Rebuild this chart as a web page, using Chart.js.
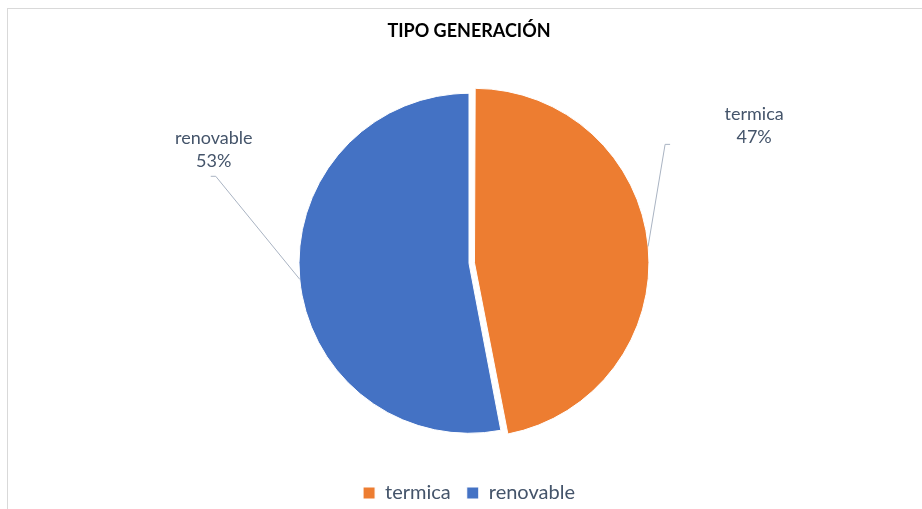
<!DOCTYPE html>
<html>
<head>
<meta charset="utf-8">
<script src="https://cdn.jsdelivr.net/npm/chart.js@4/dist/chart.umd.min.js"></script>
<style>
  html, body { margin: 0; padding: 0; background: #fff; overflow: hidden; }
  #frame { position: absolute; left: 7px; top: 8px; width: 1000px; height: 600px;
           border-left: 1px solid #d9d9d9; border-top: 1px solid #d9d9d9; }
  #wrap { position: absolute; left: 0; top: 0; width: 922px; height: 509px; }
</style>
</head>
<body>
<div id="frame"></div>
<div id="wrap"><canvas id="chart"></canvas></div>
<script>
// data
const categories = ['termica', 'renovable'];
const values = [47, 53];
const colors = ['#ED7D31', '#4472C4'];

const textColor = '#44546A';

// outside labels with leader lines, anchored on each slice edge at its mid angle
const outLabels = {
  id: 'outLabels',
  afterDatasetsDraw(chart, args, opts) {
    const meta = chart.getDatasetMeta(0);
    const ctx = chart.ctx;
    const total = values.reduce((a, b) => a + b, 0);
    meta.data.forEach((arc, i) => {
      const p = arc.getProps(['x', 'y', 'startAngle', 'endAngle', 'outerRadius'], true);
      const mid = (p.startAngle + p.endAngle) / 2;
      const shift = (arc.options.offset || 0) / 4;
      const ex = p.x + Math.cos(mid) * (p.outerRadius + shift * 1.8);
      const ey = p.y + Math.sin(mid) * (p.outerRadius + shift * 1.8);
      const pl = opts.place[i];
      const lx = ex + pl.dx, ly = ey + pl.dy;
      ctx.save();
      ctx.strokeStyle = '#A9B3C2';
      ctx.lineWidth = 1;
      ctx.beginPath();
      ctx.moveTo(ex, ey);
      ctx.lineTo(lx, ly);
      ctx.lineTo(lx + pl.tick, ly);
      ctx.stroke();
      ctx.fillStyle = textColor;
      ctx.font = '18px Lato';
      ctx.textAlign = 'center';
      ctx.textBaseline = 'middle';
      ctx.fillText(categories[i], lx + pl.tx, ly + pl.ty);
      ctx.fillText(Math.round(values[i] / total * 100) + '%', lx + pl.tx, ly + pl.ty + 23);
      ctx.restore();
    });
  }
};

new Chart(document.getElementById('chart'), {
  type: 'pie',
  data: {
    labels: categories,
    datasets: [{
      data: values,
      backgroundColor: colors,
      borderColor: '#ffffff',
      borderWidth: 1,
      offset: [22, 0]
    }]
  },
  options: {
    responsive: true,
    maintainAspectRatio: false,
    animation: false,
    radius: 170,
    layout: { padding: { left: 16, right: 0, top: 0, bottom: -4 } },
    plugins: {
      tooltip: { enabled: false },
      title: {
        display: true,
        text: 'TIPO GENERACIÓN',
        color: '#000000',
        font: { family: 'Lato', size: 18, weight: 'bold' },
        padding: { top: 20, bottom: 18 }
      },
      legend: {
        position: 'bottom',
        labels: {
          color: textColor,
          font: { family: 'Lato', size: 20 },
          boxWidth: 12,
          boxHeight: 12,
          padding: 16
        }
      },
      outLabels: {
        place: [
          { dx: 17, dy: -102, tick: 5, tx: 89, ty: -30 },
          { dx: -84, dy: -103, tick: -5, tx: -2, ty: -38 }
        ]
      }
    }
  },
  plugins: [outLabels]
});
</script>
</body>
</html>
